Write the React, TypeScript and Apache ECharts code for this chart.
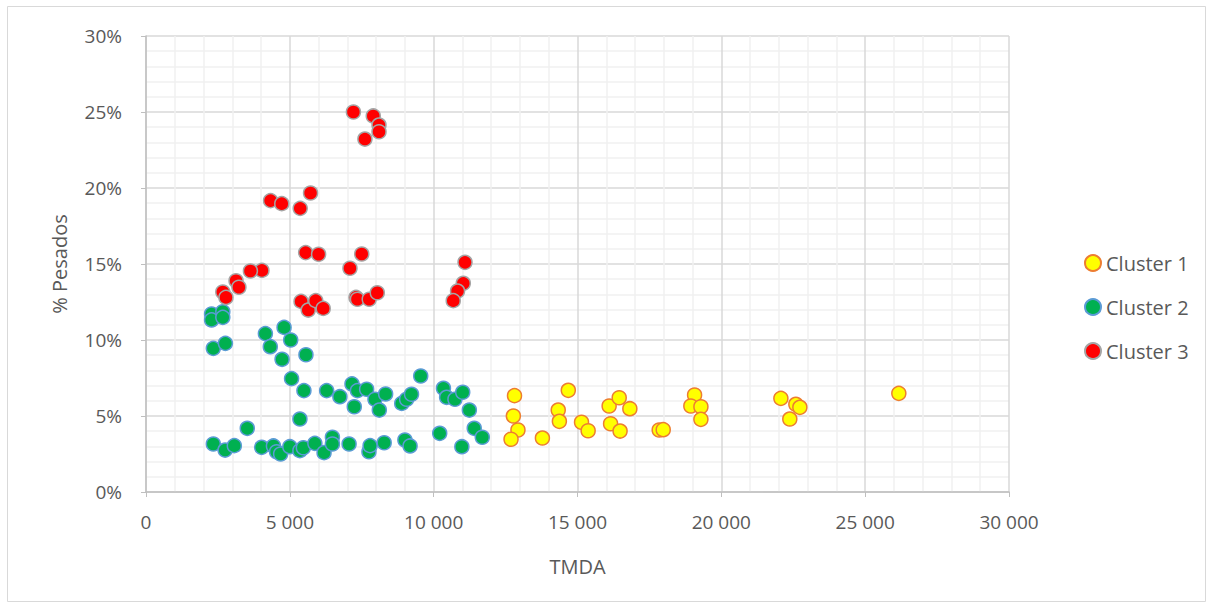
import React, { useEffect, useRef } from "react";
import * as echarts from "echarts";

const seriesNames = ["Cluster 1", "Cluster 2", "Cluster 3"];

const cluster1: [number, number][] = [
  [12810, 0.0634], [12770, 0.05], [12930, 0.0408], [12690, 0.0347], [13780, 0.0355],
  [14680, 0.0669], [14330, 0.0539], [14370, 0.0465], [15140, 0.0459], [15370, 0.0403],
  [16100, 0.0566], [16450, 0.062], [16820, 0.0548], [16150, 0.0449], [16480, 0.0401],
  [17840, 0.0408], [17980, 0.041], [19070, 0.0638], [18940, 0.0566], [19290, 0.0561],
  [19290, 0.0478], [22070, 0.0616], [22590, 0.0577], [22730, 0.0557], [22380, 0.048],
  [26170, 0.0649],
];

const cluster2: [number, number][] = [
  [2280, 0.1171], [2280, 0.1132], [2670, 0.1186], [2670, 0.1149], [2340, 0.0945],
  [2760, 0.0978], [4150, 0.1042], [4800, 0.1083], [5030, 0.1], [4320, 0.0956],
  [5560, 0.0903], [4730, 0.0873], [5060, 0.0746], [5490, 0.0667], [6280, 0.0667],
  [6740, 0.0627], [7160, 0.0711], [7350, 0.0667], [7670, 0.0676], [7960, 0.061],
  [8330, 0.0645], [8110, 0.0539], [7240, 0.0561], [8890, 0.0583], [9060, 0.061],
  [9230, 0.0643], [9550, 0.0763], [10340, 0.0682], [10450, 0.0623], [10740, 0.061],
  [11010, 0.0656], [11240, 0.0539], [5350, 0.048], [3520, 0.0419], [11410, 0.0419],
  [11690, 0.036], [10210, 0.0386], [10980, 0.0298], [2340, 0.0316], [2750, 0.0276],
  [3070, 0.0305], [4020, 0.0294], [4430, 0.0303], [4540, 0.0265], [4680, 0.025],
  [5000, 0.0298], [5350, 0.0272], [5470, 0.0291], [5870, 0.032], [6190, 0.0259],
  [6480, 0.036], [6480, 0.0316], [7060, 0.0316], [7750, 0.0265], [7790, 0.0305],
  [8280, 0.0324], [9000, 0.0342], [9180, 0.0303],
];

const cluster3: [number, number][] = [
  [7210, 0.25], [7900, 0.2474], [8100, 0.2414], [8100, 0.237], [7610, 0.2322],
  [4330, 0.1917], [4720, 0.1897], [5360, 0.1866], [5720, 0.1967], [5550, 0.1575],
  [6000, 0.1564], [7500, 0.1566], [7090, 0.1472], [4030, 0.1458], [3630, 0.1454],
  [3130, 0.139], [3230, 0.1347], [2670, 0.1316], [2780, 0.128], [11090, 0.1511],
  [11030, 0.1373], [10830, 0.1322], [10680, 0.1259], [5390, 0.1254], [5640, 0.1197],
  [5900, 0.1259], [6160, 0.1208], [7300, 0.128], [7350, 0.1268], [7760, 0.1268],
  [8040, 0.1311],
];

const xTicks = { min: 0, max: 30000, interval: 5000 };
const yTicks = { min: 0, max: 0.3, interval: 0.05 };

const FONT = "'Open Sans', 'Liberation Sans', sans-serif";
const TXT = "#595959";

export default function App() {
  const ref = useRef<HTMLDivElement>(null);
  useEffect(() => {
    document.body.style.margin = "0";
    const chart = echarts.init(ref.current!, null, { renderer: "svg" });
    const mk = (name: string, data: [number, number][], fill: string, stroke: string) => ({
      name,
      type: "scatter",
      data,
      symbol: "circle",
      symbolSize: 14,
      itemStyle: { color: fill, borderColor: stroke, borderWidth: 1.5, opacity: 1 },
      emphasis: { disabled: true },
    });
    chart.setOption({
      animation: false,
      backgroundColor: "#ffffff",
      textStyle: { fontFamily: FONT, color: TXT },
      graphic: [
        {
          type: "rect",
          shape: { x: 7.5, y: 6.5, width: 1198, height: 595 },
          style: { fill: "none", stroke: "#d9d9d9", lineWidth: 1 },
          silent: true,
        },
      ],
      grid: { left: 146, right: 204, top: 36, bottom: 116 },
      legend: {
        orient: "vertical",
        left: 1084,
        top: 253,
        padding: 0,
        itemGap: 24,
        itemWidth: 16,
        itemHeight: 16,
        data: seriesNames.map((n) => ({ name: n, icon: "circle" })),
        textStyle: { fontFamily: FONT, fontSize: 20, color: TXT },
      },
      xAxis: {
        type: "value",
        min: xTicks.min,
        max: xTicks.max,
        interval: xTicks.interval,
        name: "TMDA",
        nameLocation: "middle",
        nameGap: 64,
        nameTextStyle: { fontFamily: FONT, fontSize: 20, color: TXT },
        axisLine: { show: true, lineStyle: { color: "#bfbfbf", width: 1.5 } },
        axisTick: { show: true, length: 5, lineStyle: { color: "#bfbfbf" } },
        axisLabel: {
          fontFamily: FONT,
          fontSize: 19,
          color: TXT,
          margin: 20,
          formatter: (v: number) => String(v).replace(/\B(?=(\d{3})+(?!\d))/g, " "),
        },
        splitLine: { show: true, lineStyle: { color: "#d9d9d9", width: 1.5 } },
        minorTick: { show: false, splitNumber: 5 },
        minorSplitLine: { show: true, lineStyle: { color: "#f0f0f0", width: 1.5 } },
      },
      yAxis: {
        type: "value",
        min: yTicks.min,
        max: yTicks.max,
        interval: yTicks.interval,
        name: "% Pesados",
        nameLocation: "middle",
        nameGap: 77,
        nameTextStyle: { fontFamily: FONT, fontSize: 20, color: TXT },
        axisLine: { show: true, lineStyle: { color: "#bfbfbf", width: 1.5 } },
        axisTick: { show: true, length: 5, lineStyle: { color: "#bfbfbf" } },
        axisLabel: {
          fontFamily: FONT,
          fontSize: 19,
          color: TXT,
          margin: 24,
          formatter: (v: number) => Math.round(v * 100) + "%",
        },
        splitLine: { show: true, lineStyle: { color: "#d9d9d9", width: 1.5 } },
        minorTick: { show: false, splitNumber: 5 },
        minorSplitLine: { show: true, lineStyle: { color: "#f0f0f0", width: 1.5 } },
      },
      series: [
        mk(seriesNames[0], cluster1, "#ffff00", "#ed7d31"),
        mk(seriesNames[1], cluster2, "#00b050", "#5b9bd5"),
        mk(seriesNames[2], cluster3, "#ff0000", "#a5a5a5"),
      ],
    });
    return () => chart.dispose();
  }, []);
  return <div ref={ref} style={{ width: 1213, height: 608 }} />;
}
